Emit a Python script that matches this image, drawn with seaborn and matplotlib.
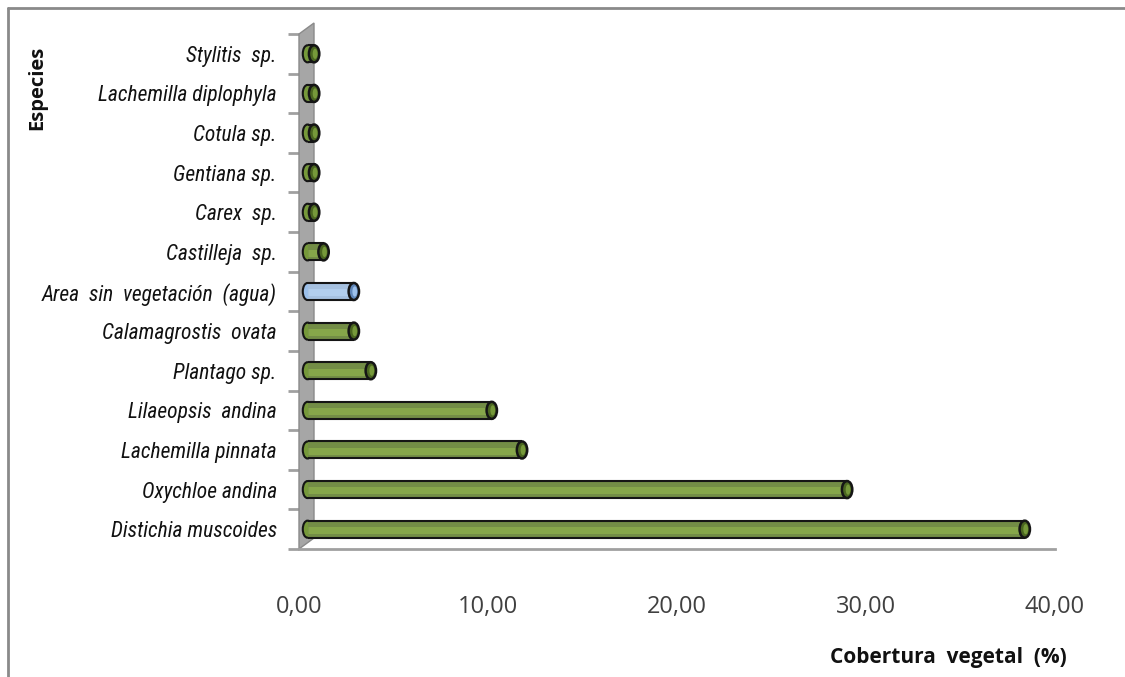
import matplotlib
matplotlib.use("Agg")
import matplotlib.pyplot as plt
from matplotlib.patches import Ellipse, Polygon
from matplotlib.lines import Line2D
from matplotlib import font_manager
import seaborn as sns
import pandas as pd

species = ["Stylitis  sp.", "Lachemilla diplophyla", "Cotula sp.", "Gentiana sp.",
           "Carex  sp.", "Castilleja  sp.", "Area  sin  vegetación  (agua)",
           "Calamagrostis  ovata", "Plantago sp.", "Lilaeopsis  andina",
           "Lachemilla pinnata", "Oxychloe andina", "Distichia muscoides"]
cobertura = [0.8, 0.8, 0.8, 0.8, 0.8, 1.3, 2.9, 2.9, 3.8, 10.2, 11.8, 29.0, 38.4]
grupo = ["veg", "veg", "veg", "veg", "veg", "veg", "agua", "veg", "veg", "veg", "veg", "veg", "veg"]
xticks = [0, 10, 20, 30, 40]
xticklabels = ["0,00", "10,00", "20,00", "30,00", "40,00"]

df = pd.DataFrame({"especie": species, "cobertura": cobertura, "grupo": grupo})

sns.set_theme(style="white")
plt.rcParams["font.family"] = ["Open Sans", "DejaVu Sans"]

# find a condensed / narrow font for the category labels
names = {f.name for f in font_manager.fontManager.ttflist}
cond = None
for cand in ["Liberation Sans Narrow", "DejaVu Sans Condensed", "Roboto Condensed",
             "Open Sans Condensed", "Noto Sans Condensed"]:
    if cand in names:
        cond = cand
        break
cond_stretch = "normal"
if cond is None:
    cond = "DejaVu Sans"
    cond_stretch = "condensed"

W, H = 1125, 677
fig = plt.figure(figsize=(W / 100, H / 100), dpi=100)
ax = fig.add_axes([299 / W, 1 - 549 / H, (1055 - 299) / W, (549 - 34) / H])

pal = {"veg": "#76993a", "agua": "#9cc0ea"}
cap = {"veg": "#4a6620", "agua": "#5f86b8"}
light = {"veg": "#8fb24c", "agua": "#b8d4f3"}
bh = 0.43
sns.barplot(data=df, x="cobertura", y="especie", hue="grupo", palette=pal,
            order=species, orient="h", width=bh, legend=False, dodge=False, ax=ax)

ax.set_xlim(0, 40)
ax.set_ylim(len(species) - 0.5, -0.5)

# restyle bars as cylinders
start = 0.45
agua_rgb = matplotlib.colors.to_rgba(pal["agua"])
for p in list(ax.patches):
    w = p.get_width()
    if w <= 0:
        continue
    yc = p.get_y() + p.get_height() / 2
    h = p.get_height()
    fc = p.get_facecolor()
    g = "agua" if abs(fc[2] - agua_rgb[2]) < 0.05 else "veg"
    p.set_x(start)
    p.set_width(w - start)
    p.set_edgecolor("none")
    p.set_zorder(3)
    ax.add_patch(Ellipse((start, yc), 0.5, h, facecolor=pal[g], edgecolor="#151515",
                         lw=1.5, zorder=2))
    ax.plot([start, w], [yc - h / 2, yc - h / 2], color="#151515", lw=1.5, zorder=4,
            solid_capstyle="butt")
    ax.plot([start, w], [yc + h / 2, yc + h / 2], color="#151515", lw=1.5, zorder=4,
            solid_capstyle="butt")
    ax.plot([start, w], [yc + h * 0.05, yc + h * 0.05], color=light[g], lw=5, alpha=0.7,
            zorder=3.5, solid_capstyle="butt")
    ax.add_patch(Ellipse((w, yc), 0.55, h, facecolor=cap[g], edgecolor="#151515",
                         lw=1.8, zorder=5))
    ax.add_patch(Ellipse((w + 0.05, yc), 0.25, h * 0.6, facecolor=pal[g], edgecolor="none",
                         zorder=6))

# grey back wall (3D look), in axes fractions
dx, dy = 15 / 756, 11 / 515
wall = Polygon([(0, 0), (dx, dy), (dx, 1 + dy), (0, 1)], closed=True,
               transform=ax.transAxes, facecolor="#a6a6a6", edgecolor="#8a8a8a",
               lw=1, zorder=1, clip_on=False)
ax.add_patch(wall)

for s in ["top", "right", "left"]:
    ax.spines[s].set_visible(False)
ax.spines["bottom"].set_color("#a0a0a0")
ax.spines["bottom"].set_linewidth(2)

ax.set_xticks(xticks)
ax.set_xticklabels(xticklabels)
ax.tick_params(axis="x", direction="out", length=8, width=2, color="#a0a0a0",
               pad=25, labelsize=17, labelcolor="#404040")
ax.tick_params(axis="y", length=0, pad=16)
ax.set_yticks(range(len(species)))
ax.set_yticklabels(species)
for t in ax.get_yticklabels():
    t.set_fontfamily([cond, "DejaVu Sans"])
    t.set_fontstretch(cond_stretch)
    t.set_fontstyle("italic")
    t.set_fontsize(15.5)
    t.set_color("#111111")
ax.set_yticks([i - 0.5 for i in range(len(species) + 1)], minor=True)
ax.tick_params(axis="y", which="minor", direction="out", length=8, width=2,
               color="#a0a0a0", left=True)
ax.set_xlabel("")
ax.set_ylabel("")

fig.text(948 / W, 1 - 658 / H, "Cobertura  vegetal  (%)", ha="center", va="center",
         fontsize=15, fontweight="bold", color="#111111")
fig.text(37 / W, 1 - 88 / H, "Especies", ha="center", va="center", rotation=90,
         fontsize=14.5, fontweight="bold", color="#111111")

fig.add_artist(Line2D([8 / W, 1], [1 - 8 / H, 1 - 8 / H], transform=fig.transFigure,
                      color="#8a8a8a", lw=2))
fig.add_artist(Line2D([8 / W, 8 / W], [0, 1 - 8 / H], transform=fig.transFigure,
                      color="#8a8a8a", lw=2))

fig.savefig("out.png", dpi=100)
